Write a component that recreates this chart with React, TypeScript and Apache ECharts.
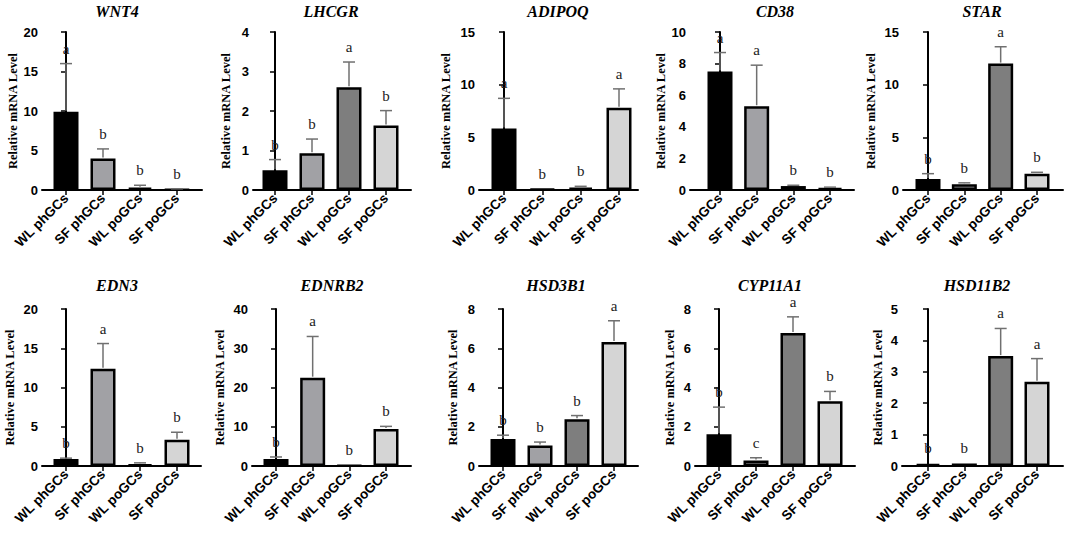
import React, { useEffect, useRef } from "react";
import * as echarts from "echarts";

// ---------- data ----------
const groups = ["WL phGCs", "SF phGCs", "WL poGCs", "SF poGCs"];
const barColors = ["#000000", "#a1a1a5", "#7e7e7e", "#d5d5d5"];

const genes = ["WNT4", "LHCGR", "ADIPOQ", "CD38", "STAR", "EDN3", "EDNRB2", "HSD3B1", "CYP11A1", "HSD11B2"];
const yMaxes = [20, 4, 15, 10, 15, 20, 40, 8, 8, 5];
const ySteps = [5, 1, 5, 2, 5, 5, 10, 2, 2, 1];

const wnt4Mean = [9.9, 4.0, 0.3, 0.05];
const wnt4Err = [16.0, 5.2, 0.6, 0.15];
const wnt4Sig = ["a", "b", "b", "b"];

const lhcgrMean = [0.5, 0.93, 2.6, 1.63];
const lhcgrErr = [0.77, 1.29, 3.24, 2.01];
const lhcgrSig = ["b", "b", "a", "b"];

const adipoqMean = [5.85, 0.08, 0.22, 7.8];
const adipoqErr = [8.7, 0.12, 0.35, 9.6];
const adipoqSig = ["a", "b", "b", "a"];

const cd38Mean = [7.5, 5.3, 0.25, 0.12];
const cd38Err = [8.7, 7.9, 0.3, 0.18];
const cd38Sig = ["a", "a", "b", "b"];

const starMean = [1.05, 0.55, 12.0, 1.55];
const starErr = [1.55, 0.68, 13.6, 1.68];
const starSig = ["b", "b", "a", "b"];

const edn3Mean = [0.9, 12.4, 0.22, 3.35];
const edn3Err = [1.0, 15.6, 0.4, 4.3];
const edn3Sig = ["b", "a", "b", "b"];

const ednrb2Mean = [1.8, 22.5, 0.15, 9.4];
const ednrb2Err = [2.3, 33.0, 0.2, 10.1];
const ednrb2Sig = ["b", "a", "b", "b"];

const hsd3b1Mean = [1.38, 1.05, 2.38, 6.32];
const hsd3b1Err = [1.57, 1.22, 2.57, 7.4];
const hsd3b1Sig = ["b", "b", "b", "a"];

const cyp11a1Mean = [1.62, 0.28, 6.78, 3.3];
const cyp11a1Err = [3.0, 0.42, 7.6, 3.8];
const cyp11a1Sig = ["b", "c", "a", "b"];

const hsd11b2Mean = [0.07, 0.08, 3.5, 2.68];
const hsd11b2Err = [0.08, 0.09, 4.38, 3.42];
const hsd11b2Sig = ["b", "b", "a", "a"];

const allMeans = [wnt4Mean, lhcgrMean, adipoqMean, cd38Mean, starMean, edn3Mean, ednrb2Mean, hsd3b1Mean, cyp11a1Mean, hsd11b2Mean];
const allErrs = [wnt4Err, lhcgrErr, adipoqErr, cd38Err, starErr, edn3Err, ednrb2Err, hsd3b1Err, cyp11a1Err, hsd11b2Err];
const allSigs = [wnt4Sig, lhcgrSig, adipoqSig, cd38Sig, starSig, edn3Sig, ednrb2Sig, hsd3b1Sig, cyp11a1Sig, hsd11b2Sig];

// ---------- layout (pixels) ----------
const ROWS = [
  { top: 32, bottom: 190, titleY: 11 },
  { top: 309, bottom: 466, titleY: 285 },
];
// left axis x, first bar centre, last bar centre, right end of x axis, title centre, name gap
const PANELS = [
  { row: 0, left: 42, c0: 66, c3: 177, right: 202, tx: 117, gap: 20 },
  { row: 0, left: 253, c0: 275, c3: 386, right: 411, tx: 331, gap: 21 },
  { row: 0, left: 479, c0: 504, c3: 619, right: 638, tx: 558, gap: 27 },
  { row: 0, left: 690, c0: 720, c3: 830, right: 854, tx: 775, gap: 21 },
  { row: 0, left: 903, c0: 928, c3: 1037, right: 1063, tx: 982, gap: 26 },
  { row: 1, left: 42, c0: 66, c3: 177, right: 201, tx: 117, gap: 26 },
  { row: 1, left: 252, c0: 276, c3: 386, right: 411, tx: 332, gap: 26 },
  { row: 1, left: 479, c0: 503, c3: 614, right: 638, tx: 556, gap: 20 },
  { row: 1, left: 695, c0: 719, c3: 830, right: 855, tx: 770, gap: 19 },
  { row: 1, left: 902, c0: 928, c3: 1037, right: 1063, tx: 977, gap: 18 },
];

const SANS = '"Liberation Sans", Arial, sans-serif';
const SERIF = '"Liberation Serif", "Times New Roman", serif';

function buildOption() {
  const grid: any[] = [];
  const xAxis: any[] = [];
  const yAxis: any[] = [];
  const series: any[] = [];
  const graphic: any[] = [];

  PANELS.forEach((p, k) => {
    const row = ROWS[p.row];
    const ppu = (p.c3 - p.c0) / 3;
    grid.push({ left: p.left, top: row.top, width: p.right - p.left, height: row.bottom - row.top, containLabel: false });
    xAxis.push({
      type: "value",
      gridIndex: k,
      min: -(p.c0 - p.left) / ppu,
      max: 3 + (p.right - p.c3) / ppu,
      splitLine: { show: false },
      axisLine: { show: true, onZero: false, lineStyle: { color: "#000", width: 2 } },
      axisTick: { show: true, customValues: [0, 1, 2, 3], length: 5, lineStyle: { color: "#000", width: 1.5 } },
      axisLabel: {
        customValues: [0, 1, 2, 3],
        formatter: (v: number) => groups[Math.round(v)] ?? "",
        rotate: 45,
        margin: 6,
        color: "#000",
        fontFamily: SANS,
        fontWeight: "bold",
        fontSize: 13.5,
      },
    });
    yAxis.push({
      type: "value",
      gridIndex: k,
      min: 0,
      max: yMaxes[k],
      interval: ySteps[k],
      splitLine: { show: false },
      axisLine: { show: true, lineStyle: { color: "#000", width: 2 } },
      axisTick: { show: true, length: 5, lineStyle: { color: "#000", width: 1.5 } },
      axisLabel: { color: "#000", fontFamily: SANS, fontWeight: "bold", fontSize: 13, margin: 4 },
      name: "Relative mRNA Level",
      nameLocation: "middle",
      nameRotate: 90,
      nameGap: p.gap,
      nameTextStyle: { color: "#000", fontFamily: SERIF, fontWeight: "bold", fontSize: 12.5 },
    });

    const means = allMeans[k];
    const errs = allErrs[k];
    const sigs = allSigs[k];

    series.push({
      type: "bar",
      xAxisIndex: k,
      yAxisIndex: k,
      barWidth: 25,
      itemStyle: { borderColor: "#000", borderWidth: 2.5 },
      data: means.map((v, i) => ({ value: [i, v], itemStyle: { color: barColors[i] } })),
      z: 2,
    });

    series.push({
      type: "custom",
      xAxisIndex: k,
      yAxisIndex: k,
      z: 3,
      itemStyle: { color: "#222222" },
      data: errs.map((v, i) => [i, v]),
      renderItem: (params: any, api: any) => {
        const i = params.dataIndex;
        const b = api.coord([i, means[i]]);
        const t = api.coord([i, errs[i]]);
        const children: any[] = [];
        if (b[1] - t[1] > 0.5) {
          children.push({
            type: "line",
            shape: { x1: b[0], y1: b[1] - 1, x2: t[0], y2: t[1] },
            style: { stroke: "#707070", lineWidth: 1.5 },
          });
          children.push({
            type: "line",
            shape: { x1: t[0] - 6, y1: t[1], x2: t[0] + 6, y2: t[1] },
            style: { stroke: "#707070", lineWidth: 1.5 },
          });
        }
        children.push({
          type: "text",
          style: {
            text: sigs[i],
            x: t[0],
            y: t[1] - 15,
            textAlign: "center",
            textVerticalAlign: "middle",
            font: `15px ${SERIF}`,
            fill: "#222222",
          },
        });
        return { type: "group", children };
      },
    });

    graphic.push({
      type: "text",
      x: p.tx,
      y: row.titleY,
      style: {
        text: genes[k],
        textAlign: "center",
        textVerticalAlign: "middle",
        font: `italic bold 16px ${SERIF}`,
        fill: "#000",
      },
    });
  });

  return { animation: false, backgroundColor: "#fff", grid, xAxis, yAxis, series, graphic };
}

export default function App() {
  const ref = useRef<HTMLDivElement>(null);
  useEffect(() => {
    document.body.style.margin = "0";
    if (!ref.current) return;
    const chart = echarts.init(ref.current, undefined, { renderer: "svg" });
    chart.setOption(buildOption() as any);
    return () => chart.dispose();
  }, []);
  return <div ref={ref} style={{ width: 1065, height: 534 }} />;
}
